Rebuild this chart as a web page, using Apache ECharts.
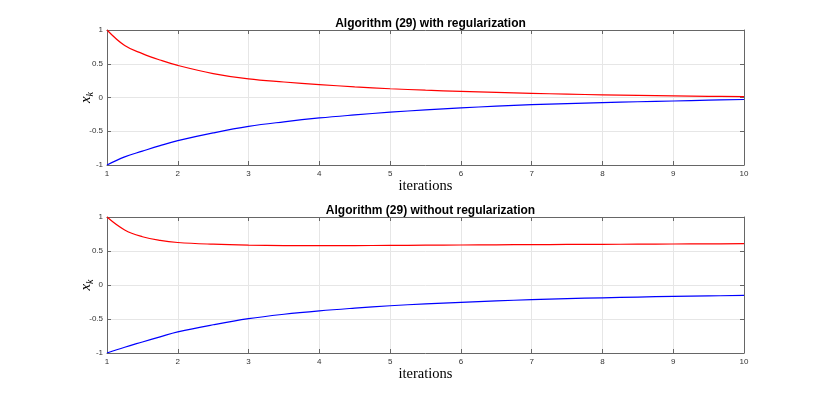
<!DOCTYPE html>
<html>
<head>
<meta charset="utf-8">
<script src="https://cdn.jsdelivr.net/npm/echarts@6/dist/echarts.min.js"></script>
<style>
  html, body { margin: 0; padding: 0; background: #fff; }
  #main { width: 822px; height: 397px; }
</style>
</head>
<body>
<div id="main"></div>
<script>
// 迭代次数（横轴采样点）
var iters = [1, 1.25, 1.5, 1.75, 2, 2.5, 3, 3.5, 4, 4.5, 5, 5.5, 6, 6.5, 7, 7.5, 8, 8.5, 9, 9.5, 10];
// 上图：带正则化
var regRed  = [1, 0.77, 0.65, 0.555, 0.475, 0.355, 0.275, 0.23, 0.192, 0.158, 0.13, 0.108, 0.09, 0.075, 0.062, 0.05, 0.04, 0.031, 0.024, 0.018, 0.012];
var regBlue = [-1, -0.88, -0.795, -0.713, -0.64, -0.525, -0.428, -0.36, -0.303, -0.258, -0.218, -0.184, -0.155, -0.128, -0.106, -0.09, -0.076, -0.063, -0.052, -0.04, -0.03];
// 下图：不带正则化
var noRegRed  = [1, 0.81, 0.71, 0.655, 0.625, 0.6, 0.586, 0.58, 0.578, 0.58, 0.582, 0.585, 0.588, 0.591, 0.594, 0.596, 0.598, 0.6, 0.603, 0.605, 0.607];
var noRegBlue = [-1, -0.915, -0.838, -0.762, -0.69, -0.585, -0.495, -0.43, -0.38, -0.34, -0.305, -0.278, -0.255, -0.234, -0.215, -0.2, -0.188, -0.177, -0.167, -0.16, -0.153];
var titles = ['Algorithm (29) with regularization', 'Algorithm (29) without regularization'];

var axisColor = '#666';
var gridColor = '#e6e6e6';

function pairs(ys) {
    return iters.map(function (x, i) { return [x, ys[i]]; });
}

var myChart = echarts.init(document.getElementById('main'));

var grids = [
    { left: 107, top: 30, width: 637, height: 135 },
    { left: 107, top: 217, width: 637, height: 136 }
];

var xAxes = [], yAxes = [], series = [], titleList = [];
var allData = [[regRed, regBlue], [noRegRed, noRegBlue]];

grids.forEach(function (g, gi) {
    titleList.push({
        text: titles[gi],
        left: g.left + g.width / 2,
        top: g.top - 17,
        textAlign: 'center',
        textStyle: { fontFamily: 'Liberation Sans', fontWeight: 'bold', fontSize: 12, color: '#000' }
    });
    // 底部 x 轴
    xAxes.push({
        type: 'value', gridIndex: gi, min: 1, max: 10, interval: 1, position: 'bottom',
        name: 'iterations', nameLocation: 'middle', nameGap: 13,
        nameTextStyle: { fontFamily: 'Liberation Serif', fontSize: 14.5, color: '#000' },
        axisLine: { onZero: false, lineStyle: { color: axisColor, width: 1 } },
        axisTick: { inside: true, length: 4, lineStyle: { color: axisColor } },
        axisLabel: { fontSize: 8, color: '#333', margin: 5, fontFamily: 'Liberation Sans' },
        splitLine: { show: true, lineStyle: { color: gridColor } }
    });
    // 顶部 x 轴（只画框和刻度）
    xAxes.push({
        type: 'value', gridIndex: gi, min: 1, max: 10, interval: 1, position: 'top',
        axisLine: { onZero: false, lineStyle: { color: axisColor, width: 1 } },
        axisTick: { inside: true, length: 4, lineStyle: { color: axisColor } },
        axisLabel: { show: false },
        splitLine: { show: false }
    });
    yAxes.push({
        type: 'value', gridIndex: gi, min: -1, max: 1, interval: 0.5, position: 'left',
        name: '{a|x}{b|k}', nameLocation: 'middle', nameGap: 12, nameRotate: 90,
        nameMoveOverlap: false,
        nameTextStyle: {
            rich: {
                a: { fontFamily: 'Liberation Serif', fontStyle: 'italic', fontSize: 15, color: '#000' },
                b: { fontFamily: 'Liberation Serif', fontStyle: 'italic', fontSize: 10, color: '#000', padding: [7, 0, 0, 0] }
            }
        },
        axisLine: { show: true, onZero: false, lineStyle: { color: axisColor, width: 1 } },
        axisTick: { show: true, inside: true, length: 4, lineStyle: { color: axisColor } },
        axisLabel: { fontSize: 8, color: '#333', margin: 4, fontFamily: 'Liberation Sans' },
        splitLine: { show: true, lineStyle: { color: gridColor } }
    });
    yAxes.push({
        type: 'value', gridIndex: gi, min: -1, max: 1, interval: 0.5, position: 'right',
        axisLine: { show: true, onZero: false, lineStyle: { color: axisColor, width: 1 } },
        axisTick: { show: true, inside: true, length: 4, lineStyle: { color: axisColor } },
        axisLabel: { show: false },
        splitLine: { show: false }
    });
    var colors = ['#ff0000', '#0000ff'];
    allData[gi].forEach(function (ys, si) {
        series.push({
            type: 'line', xAxisIndex: gi * 2, yAxisIndex: gi * 2,
            data: pairs(ys), showSymbol: false, smooth: 0.4,
            lineStyle: { color: colors[si], width: 1.2 },
            itemStyle: { color: colors[si] },
            z: 3
        });
    });
});

var option = {
    backgroundColor: '#fff',
    animation: false,
    title: titleList,
    grid: grids,
    xAxis: xAxes,
    yAxis: yAxes,
    series: series
};
myChart.setOption(option);

window.addEventListener('resize', function () {
    myChart.resize();
});
</script>
</body>
</html>
